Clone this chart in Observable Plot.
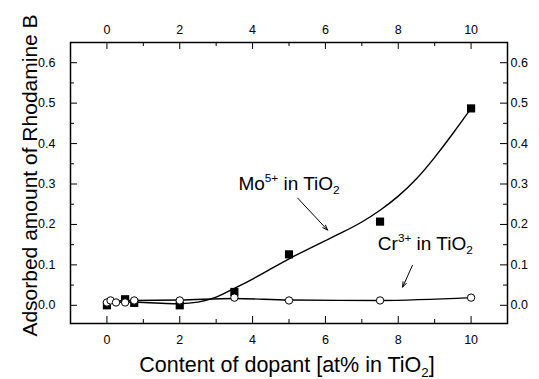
<!DOCTYPE html>
<html><head><meta charset="utf-8">
<script src="https://cdn.jsdelivr.net/npm/d3@7"></script>
<script src="https://cdn.jsdelivr.net/npm/@observablehq/plot@0.6"></script>
<style>body{margin:0;background:#fff;} #chart{width:539px;height:379px;}</style>
</head><body><div id="chart"></div>
<script>
// Measured points
const moX = [0, 0.5, 0.75, 2, 3.5, 5, 7.5, 10];
const moY = [0.0, 0.015, 0.006, 0.0, 0.033, 0.126, 0.207, 0.487];
const crX = [0, 0.1, 0.25, 0.5, 0.75, 2, 3.5, 5, 7.5, 10];
const crY = [0.007, 0.012, 0.007, 0.007, 0.012, 0.012, 0.019, 0.012, 0.012, 0.019];
// Fitted curves
const moFitX = [0, 0.5, 1, 1.5, 2, 2.5, 3, 3.5, 4, 4.5, 5, 5.5, 6, 6.5, 7, 7.5, 8, 8.5, 9, 9.5, 10];
const moFitY = [0.006, 0.008, 0.007, 0.005, 0.004, 0.008, 0.02, 0.042, 0.065, 0.09, 0.115, 0.138, 0.16, 0.182, 0.206, 0.235, 0.270, 0.313, 0.366, 0.425, 0.487];
const crFitX = [0, 0.75, 2, 3.5, 5, 7.5, 10];
const crFitY = [0.010, 0.012, 0.013, 0.017, 0.013, 0.012, 0.019];
// Ticks
const xMajor = [0, 2, 4, 6, 8, 10];
const xMinor = [1, 3, 5, 7, 9];
const yMajor = [0, 0.1, 0.2, 0.3, 0.4, 0.5, 0.6];
const yMinor = [0.05, 0.15, 0.25, 0.35, 0.45, 0.55];
// Annotations
const labelText = ["Mo^{5+} in TiO_{2}", "Cr^{3+} in TiO_{2}"];
const labelX = [3.61, 7.44];
const labelY = [0.300, 0.151];
const arrowX1 = [5.24, 8.39], arrowY1 = [0.265, 0.099];
const arrowX2 = [6.06, 8.12], arrowY2 = [0.186, 0.045];
const xTitle = "Content of dopant [at% in TiO_{2}]";
const yTitle = "Adsorbed amount of Rhodamine B";

const W = 539, H = 379, mL = 70, mR = 32, mT = 42, mB = 56;
const fw = W - mL - mR, fh = H - mT - mB;

const mo = moX.map((x, i) => ({x, y: moY[i]}));
const cr = crX.map((x, i) => ({x, y: crY[i]}));
const moFit = moFitX.map((x, i) => ({x, y: moFitY[i]}));
const crFit = crFitX.map((x, i) => ({x, y: crFitY[i]}));
const labels = labelText.map((t, i) => ({t, x: labelX[i], y: labelY[i]}));
const arrows = arrowX1.map((x, i) => ({x1: x, y1: arrowY1[i], x2: arrowX2[i], y2: arrowY2[i]}));

const plot = Plot.plot({
  width: W, height: H,
  marginLeft: mL, marginRight: mR, marginTop: mT, marginBottom: mB,
  style: {fontFamily: "'Liberation Sans', Arial, sans-serif", background: "white", color: "black"},
  x: {domain: [-1, 11]},
  y: {domain: [-0.045, 0.65]},
  marks: [
    Plot.line(moFit, {x: "x", y: "y", curve: "natural", stroke: "black", strokeWidth: 1.4}),
    Plot.line(crFit, {x: "x", y: "y", curve: "monotone-x", stroke: "black", strokeWidth: 1.4}),
    Plot.dot(mo, {x: "x", y: "y", symbol: "square", fill: "black", r: 4.6}),
    Plot.dot(cr, {x: "x", y: "y", fill: "white", stroke: "black", strokeWidth: 1, r: 3.7}),
    // ticks (inward)
    Plot.tickY(yMajor, {y: d => d, insetRight: fw - 7, stroke: "black"}),
    Plot.tickY(yMinor, {y: d => d, insetRight: fw - 4, stroke: "black"}),
    Plot.tickY(yMajor, {y: d => d, insetLeft: fw - 7, stroke: "black"}),
    Plot.tickY(yMinor, {y: d => d, insetLeft: fw - 4, stroke: "black"}),
    Plot.tickX(xMajor, {x: d => d, insetTop: fh - 7, stroke: "black"}),
    Plot.tickX(xMinor, {x: d => d, insetTop: fh - 4, stroke: "black"}),
    Plot.tickX(xMajor, {x: d => d, insetBottom: fh - 7, stroke: "black"}),
    Plot.tickX(xMinor, {x: d => d, insetBottom: fh - 4, stroke: "black"}),
    Plot.frame({stroke: "black", strokeWidth: 1.5}),
    // tick labels
    Plot.axisY({anchor: "left", ticks: yMajor, tickSize: 0, tickPadding: 15, tickFormat: ".1f", label: null, fontSize: 12.5}),
    Plot.axisY({anchor: "right", ticks: yMajor, tickSize: 0, tickPadding: 3, tickFormat: ".1f", label: null, fontSize: 12.5}),
    Plot.axisX({anchor: "bottom", ticks: xMajor, tickSize: 0, tickPadding: 12, tickFormat: "d", label: null, fontSize: 12.5}),
    Plot.axisX({anchor: "top", ticks: xMajor, tickSize: 0, tickPadding: 9, tickFormat: "d", label: null, fontSize: 12.5}),
    // annotations
    Plot.arrow(arrows, {x1: "x1", y1: "y1", x2: "x2", y2: "y2", stroke: "black", strokeWidth: 1, headLength: 8, headAngle: 40}),
    Plot.text(labels, {x: "x", y: "y", text: "t", textAnchor: "start", lineAnchor: "middle", fontSize: 19, fill: "black"}),
    Plot.text([xTitle], {text: d => d, frameAnchor: "bottom", textAnchor: "middle", lineAnchor: "middle", dx: -2, dy: 42, fontSize: 21.5, fill: "black"}),
    Plot.text([yTitle], {text: d => d, frameAnchor: "left", textAnchor: "middle", lineAnchor: "middle", rotate: -90, dx: -40.4, dy: -7.5, fontSize: 21, fill: "black"})
  ]
});
document.getElementById("chart").appendChild(plot);

// Rich text: ^{...} superscript, _{...} subscript
const NS = "http://www.w3.org/2000/svg";
plot.querySelectorAll("text").forEach(t => {
  const s = t.textContent;
  if (!/[\^_]\{/.test(s)) return;
  const fs = parseFloat(getComputedStyle(t).fontSize) || 16;
  const parts = s.split(/(\^\{[^}]*\}|_\{[^}]*\})/).filter(p => p.length);
  while (t.firstChild) t.removeChild(t.firstChild);
  let cur = 0;
  parts.forEach(p => {
    const ts = document.createElementNS(NS, "tspan");
    let target = 0, txt = p, size = null;
    if (p.startsWith("^{")) { target = -0.42 * fs; txt = p.slice(2, -1); size = 0.62 * fs; }
    else if (p.startsWith("_{")) { target = 0.2 * fs; txt = p.slice(2, -1); size = 0.62 * fs; }
    if (target - cur !== 0) ts.setAttribute("dy", (target - cur).toFixed(2));
    if (size) ts.setAttribute("font-size", size.toFixed(2));
    ts.textContent = txt;
    t.appendChild(ts);
    cur = target;
  });
});
</script>
</body></html>
